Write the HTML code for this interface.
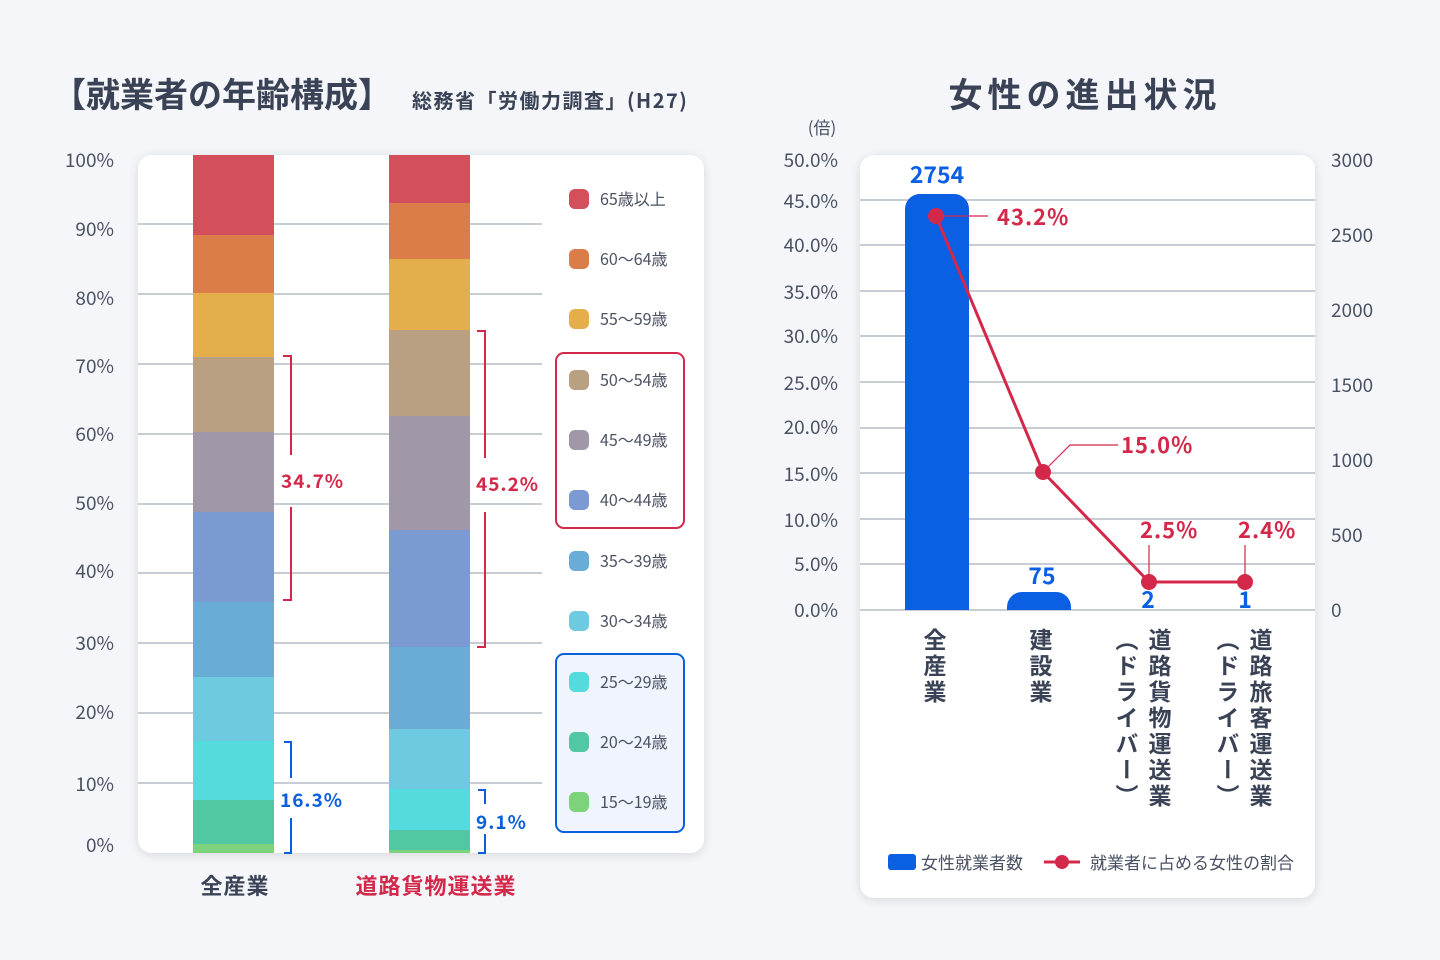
<!DOCTYPE html>
<html><head><meta charset="utf-8"><style>
html,body{margin:0;padding:0;background:#f4f6fa;}
svg{display:block;font-family:"Noto Sans CJK JP","Liberation Sans",sans-serif;}
</style></head><body>
<svg width="1440" height="960" viewBox="0 0 1440 960" xmlns="http://www.w3.org/2000/svg">
<defs><filter id="sh" x="-10%" y="-10%" width="120%" height="120%"><feDropShadow dx="0" dy="2" stdDeviation="5" flood-color="#000" flood-opacity="0.12"/></filter></defs>
<rect width="1440" height="960" fill="#f4f6fa"/>
<text x="52" y="107" font-size="34" font-weight="bold" fill="#3a4256">【就業者の年齢構成】</text>
<text x="412" y="108" font-size="20" font-weight="bold" fill="#3a4256" letter-spacing="1.5">総務省「労働力調査」(H27)</text>
<text x="1085" y="107" font-size="34" font-weight="bold" fill="#3a4256" text-anchor="middle" letter-spacing="5">女性の進出状況</text>

<rect x="138" y="155" width="566" height="698" rx="14" fill="#fff" filter="url(#sh)"/>
<g stroke="#a8adb9" stroke-width="1.2">
<line x1="138" y1="224" x2="542" y2="224"/><line x1="138" y1="294" x2="542" y2="294"/>
<line x1="138" y1="364" x2="542" y2="364"/><line x1="138" y1="434" x2="542" y2="434"/>
<line x1="138" y1="504" x2="542" y2="504"/><line x1="138" y1="573" x2="542" y2="573"/>
<line x1="138" y1="643" x2="542" y2="643"/><line x1="138" y1="713" x2="542" y2="713"/>
<line x1="138" y1="783" x2="542" y2="783"/>
</g>
<g font-size="19" fill="#4a5163" text-anchor="end">
<text x="114" y="167">100%</text><text x="114" y="236">90%</text><text x="114" y="305">80%</text>
<text x="114" y="373">70%</text><text x="114" y="441">60%</text><text x="114" y="510">50%</text>
<text x="114" y="578">40%</text><text x="114" y="650">30%</text><text x="114" y="719">20%</text>
<text x="114" y="791">10%</text><text x="114" y="852">0%</text>
</g>
<g>
<rect x="193" y="155" width="81" height="80" fill="#d24f5b"/>
<rect x="193" y="235" width="81" height="58" fill="#db7d48"/>
<rect x="193" y="293" width="81" height="64" fill="#e4ae4d"/>
<rect x="193" y="357" width="81" height="75" fill="#b9a082"/>
<rect x="193" y="432" width="81" height="80" fill="#a098a8"/>
<rect x="193" y="512" width="81" height="90" fill="#7a9ad1"/>
<rect x="193" y="602" width="81" height="75" fill="#69add6"/>
<rect x="193" y="677" width="81" height="64" fill="#6ecbdf"/>
<rect x="193" y="741" width="81" height="59" fill="#55dbdd"/>
<rect x="193" y="800" width="81" height="44" fill="#51c7a4"/>
<rect x="193" y="844" width="81" height="9" fill="#7cd37b"/>
</g>
<g>
<rect x="389" y="155" width="81" height="48" fill="#d24f5b"/>
<rect x="389" y="203" width="81" height="56" fill="#db7d48"/>
<rect x="389" y="259" width="81" height="71" fill="#e4ae4d"/>
<rect x="389" y="330" width="81" height="86" fill="#b9a082"/>
<rect x="389" y="416" width="81" height="114" fill="#a098a8"/>
<rect x="389" y="530" width="81" height="117" fill="#7a9ad1"/>
<rect x="389" y="647" width="81" height="82" fill="#69add6"/>
<rect x="389" y="729" width="81" height="60" fill="#6ecbdf"/>
<rect x="389" y="789" width="81" height="41" fill="#55dbdd"/>
<rect x="389" y="830" width="81" height="20" fill="#51c7a4"/>
<rect x="389" y="850" width="81" height="3" fill="#7cd37b"/>
</g>
<g fill="none" stroke-width="2">
<polyline stroke="#d4284a" points="283,356 291,356 291,455"/>
<polyline stroke="#d4284a" points="291,507 291,600 283,600"/>
<polyline stroke="#d4284a" points="477,331 485,331 485,458"/>
<polyline stroke="#d4284a" points="485,512 485,647 477,647"/>
<polyline stroke="#0a5fe0" points="284,742 291,742 291,778"/>
<polyline stroke="#0a5fe0" points="291,818 291,853 284,853"/>
<polyline stroke="#0a5fe0" points="478,790 485,790 485,804"/>
<polyline stroke="#0a5fe0" points="485,834 485,853 478,853"/>
</g>
<g font-size="19" font-weight="bold" letter-spacing="1">
<text x="281" y="488" fill="#d4284a">34.7%</text>
<text x="476" y="491" fill="#d4284a">45.2%</text>
<text x="280" y="807" fill="#0a5fe0">16.3%</text>
<text x="476" y="829" fill="#0a5fe0">9.1%</text>
</g>
<rect x="556" y="353" width="128" height="175" rx="8" fill="#fff" stroke="#d4284a" stroke-width="2"/>
<rect x="556" y="654" width="128" height="178" rx="8" fill="#f0f5fd" stroke="#0a5fe0" stroke-width="2"/>
<g font-size="16" fill="#4a5163">
<rect x="569" y="189" width="20" height="20" rx="6" fill="#d24f5b"/><text x="600" y="205">65歳以上</text>
<rect x="569" y="249" width="20" height="20" rx="6" fill="#db7d48"/><text x="600" y="265">60〜64歳</text>
<rect x="569" y="309" width="20" height="20" rx="6" fill="#e4ae4d"/><text x="600" y="325">55〜59歳</text>
<rect x="569" y="370" width="20" height="20" rx="6" fill="#b9a082"/><text x="600" y="386">50〜54歳</text>
<rect x="569" y="430" width="20" height="20" rx="6" fill="#a098a8"/><text x="600" y="446">45〜49歳</text>
<rect x="569" y="490" width="20" height="20" rx="6" fill="#7a9ad1"/><text x="600" y="506">40〜44歳</text>
<rect x="569" y="551" width="20" height="20" rx="6" fill="#69add6"/><text x="600" y="567">35〜39歳</text>
<rect x="569" y="611" width="20" height="20" rx="6" fill="#6ecbdf"/><text x="600" y="627">30〜34歳</text>
<rect x="569" y="672" width="20" height="20" rx="6" fill="#55dbdd"/><text x="600" y="688">25〜29歳</text>
<rect x="569" y="732" width="20" height="20" rx="6" fill="#51c7a4"/><text x="600" y="748">20〜24歳</text>
<rect x="569" y="792" width="20" height="20" rx="6" fill="#7cd37b"/><text x="600" y="808">15〜19歳</text>
</g>
<g font-size="22" font-weight="bold" text-anchor="middle" letter-spacing="1">
<text x="235" y="894" fill="#3a4256">全産業</text>
<text x="436" y="894" fill="#d4284a">道路貨物運送業</text>
</g>

<rect x="860" y="155" width="455" height="743" rx="14" fill="#fff" filter="url(#sh)"/>
<g stroke="#a8adb9" stroke-width="1.2">
<line x1="860" y1="200" x2="1315" y2="200"/><line x1="860" y1="245" x2="1315" y2="245"/>
<line x1="860" y1="291" x2="1315" y2="291"/><line x1="860" y1="336" x2="1315" y2="336"/>
<line x1="860" y1="382" x2="1315" y2="382"/><line x1="860" y1="428" x2="1315" y2="428"/>
<line x1="860" y1="473" x2="1315" y2="473"/><line x1="860" y1="519" x2="1315" y2="519"/>
<line x1="860" y1="564" x2="1315" y2="564"/><line x1="860" y1="610" x2="1315" y2="610"/>
</g>
<text x="822" y="134" font-size="17" fill="#4a5163" text-anchor="middle">(倍)</text>
<g font-size="19" fill="#4a5163" text-anchor="end">
<text x="838" y="167">50.0%</text><text x="838" y="208">45.0%</text><text x="838" y="252">40.0%</text>
<text x="838" y="299">35.0%</text><text x="838" y="343">30.0%</text><text x="838" y="390">25.0%</text>
<text x="838" y="434">20.0%</text><text x="838" y="481">15.0%</text><text x="838" y="527">10.0%</text>
<text x="838" y="571">5.0%</text><text x="838" y="617">0.0%</text>
</g>
<g font-size="19" fill="#4a5163">
<text x="1331" y="167">3000</text><text x="1331" y="242">2500</text><text x="1331" y="317">2000</text>
<text x="1331" y="392">1500</text><text x="1331" y="467">1000</text><text x="1331" y="542">500</text>
<text x="1331" y="617">0</text>
</g>
<path d="M905,610 V209 a15,15 0 0 1 15,-15 H954 a15,15 0 0 1 15,15 V610 Z" fill="#0a5fe3"/>
<path d="M1007,610 V607 a15,15 0 0 1 15,-15 H1056 a15,15 0 0 1 15,15 V610 Z" fill="#0a5fe3"/>
<g font-size="23" font-weight="bold" fill="#0a5fe3" text-anchor="middle">
<text x="937" y="183">2754</text><text x="1042" y="584">75</text>
<text x="1148" y="608">2</text><text x="1245" y="608">1</text>
</g>
<g stroke="#d4284a" fill="none">
<polyline stroke-width="3" points="936,216 1043,472 1149,582 1245,582"/>
<line x1="936" y1="216" x2="988" y2="216" stroke-width="1.2"/>
<polyline stroke-width="1.2" points="1043,472 1070,445 1118,445"/>
<line x1="1149" y1="582" x2="1149" y2="545" stroke-width="1.2"/>
<line x1="1245" y1="582" x2="1245" y2="545" stroke-width="1.2"/>
</g>
<g fill="#d4284a"><circle cx="936" cy="216" r="8"/><circle cx="1043" cy="472" r="8"/><circle cx="1149" cy="582" r="8"/><circle cx="1245" cy="582" r="8"/></g>
<g font-size="22" font-weight="bold" fill="#d4284a" letter-spacing="1">
<text x="997" y="225">43.2%</text><text x="1121" y="453">15.0%</text>
<text x="1140" y="538">2.5%</text><text x="1238" y="538">2.4%</text>
</g>
<g font-size="23" font-weight="bold" fill="#3a4256" letter-spacing="3" style="writing-mode:vertical-rl">
<text x="935" y="628">全産業</text>
<text x="1041" y="628">建設業</text>
<text x="1160" y="628">道路貨物運送業</text>
<text x="1127" y="628">（ドライバー）</text>
<text x="1261" y="628">道路旅客運送業</text>
<text x="1228" y="628">（ドライバー）</text>
</g>
<rect x="888" y="854" width="28" height="16" rx="3" fill="#0a5fe3"/>
<line x1="1044" y1="862" x2="1080" y2="862" stroke="#d4284a" stroke-width="3"/>
<circle cx="1062" cy="862" r="7" fill="#d4284a"/>
<g font-size="17" fill="#4a5163">
<text x="921" y="869">女性就業者数</text>
<text x="1090" y="869">就業者に占める女性の割合</text>
</g>
</svg>
</body></html>
